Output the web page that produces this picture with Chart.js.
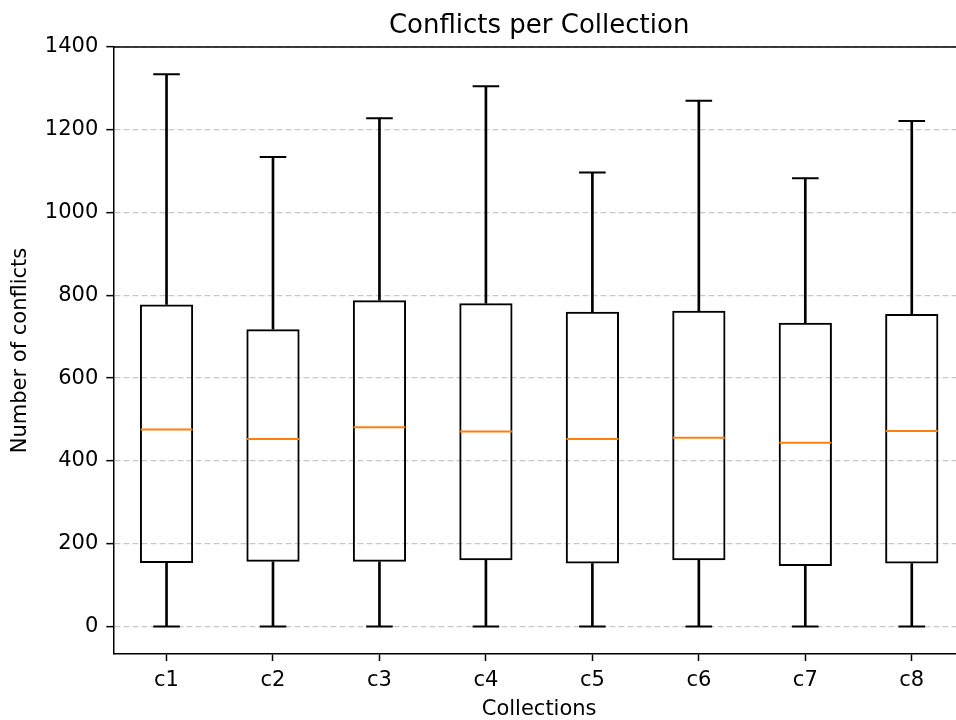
<!DOCTYPE html>
<html><head><meta charset="utf-8">
<script src="https://cdn.jsdelivr.net/npm/chart.js@4/dist/chart.umd.min.js"></script>
<style>
html,body{margin:0;padding:0;overflow:hidden;background:#fff;width:956px;height:720px}
canvas{display:block}
</style></head>
<body>
<canvas id="c" width="965" height="720"></canvas>
<script>
// ---- data ----
const categories  = ['c1','c2','c3','c4','c5','c6','c7','c8'];
const whiskerLow  = [0, 0, 0, 0, 0, 0, 0, 0];
const q1          = [153, 156, 156, 160, 152, 160, 146, 152];
const medians     = [476, 453, 481, 471, 453, 456, 444, 472];
const q3          = [778, 718, 788, 781, 760, 763, 734, 755];
const whiskerHigh = [1334, 1134, 1228, 1305, 1097, 1270, 1083, 1221];
const yTicks      = [0, 200, 400, 600, 800, 1000, 1200, 1400];

const FONT = "'DejaVu Sans', sans-serif";
const BLACK = '#000000';

const boxData   = categories.map((_, i) => [q1[i], q3[i]]);
const lowData   = categories.map((_, i) => [whiskerLow[i], q1[i]]);
const highData  = categories.map((_, i) => [q3[i], whiskerHigh[i]]);

// top spine (matplotlib-style frame)
const framePlugin = {
  id: 'frame',
  afterDatasetsDraw(chart) {
    const {ctx, chartArea: a} = chart;
    ctx.save();
    ctx.strokeStyle = BLACK;
    ctx.lineWidth = 1.5;
    ctx.beginPath();
    ctx.moveTo(a.left, a.top);
    ctx.lineTo(a.right, a.top);
    ctx.stroke();
    ctx.restore();
  }
};

new Chart(document.getElementById('c'), {
  type: 'bar',
  data: {
    labels: categories,
    datasets: [
      { type: 'line', label: 'median', data: medians, showLine: false,
        pointStyle: 'line', pointRadius: 26, pointHoverRadius: 26,
        borderColor: '#ff7f0e', pointBorderColor: '#ff7f0e',
        borderWidth: 2, pointBorderWidth: 2 },
      { type: 'line', label: 'capHigh', data: whiskerHigh, showLine: false,
        pointStyle: 'line', pointRadius: 13.3, pointHoverRadius: 13.3,
        borderColor: BLACK, pointBorderColor: BLACK,
        borderWidth: 2, pointBorderWidth: 2 },
      { type: 'line', label: 'capLow', data: whiskerLow, showLine: false,
        pointStyle: 'line', pointRadius: 13.3, pointHoverRadius: 13.3,
        borderColor: BLACK, pointBorderColor: BLACK,
        borderWidth: 2, pointBorderWidth: 2 },
      { label: 'box', data: boxData, grouped: false,
        backgroundColor: 'rgba(0,0,0,0)', borderColor: BLACK, borderWidth: 2,
        borderSkipped: false, barPercentage: 0.5, categoryPercentage: 1 },
      { label: 'upper whisker', data: highData, grouped: false,
        backgroundColor: BLACK, borderWidth: 0, barThickness: 2 },
      { label: 'lower whisker', data: lowData, grouped: false,
        backgroundColor: BLACK, borderWidth: 0, barThickness: 2 }
    ]
  },
  options: {
    responsive: false,
    animation: false,
    devicePixelRatio: 1,
    layout: { padding: 0, autoPadding: false },
    plugins: {
      legend: { display: false },
      tooltip: { enabled: false },
      title: {
        display: true, text: 'Conflicts per Collection', color: BLACK,
        fullSize: false,
        font: { family: FONT, size: 26, weight: 'normal' },
        padding: { top: 10.4, bottom: 5.4 }
      }
    },
    scales: {
      x: {
        offset: true,
        afterFit: s => { s.height = 66; },
        grid: { display: true, drawOnChartArea: false, offset: false,
                drawTicks: true, tickLength: 7, tickColor: BLACK, tickWidth: 1.5 },
        border: { display: true, color: BLACK, width: 1.5 },
        ticks: { color: BLACK, font: { family: FONT, size: 21 }, padding: 7,
                 maxRotation: 0, autoSkip: false },
        title: { display: true, text: 'Collections', color: BLACK,
                 font: { family: FONT, size: 21 }, padding: { top: 0, bottom: -2 } }
      },
      y: {
        min: -66.7, max: 1400,
        afterFit: s => { s.width = 113.3; },
        afterBuildTicks: s => { s.ticks = yTicks.map(v => ({ value: v })); },
        grid: { color: '#c8c8c8', lineWidth: 1.3, drawTicks: true, tickLength: 7,
                tickColor: BLACK, tickWidth: 1.5 },
        border: { display: true, color: BLACK, width: 1.5, dash: [6, 3] },
        ticks: { color: BLACK, font: { family: FONT, size: 21 }, padding: 8,
                 callback: v => String(v) },
        title: { display: true, text: 'Number of conflicts', color: BLACK,
                 font: { family: FONT, size: 21 }, padding: { top: 8.4, bottom: 0 } }
      }
    }
  },
  plugins: [framePlugin]
});
</script>
</body></html>
